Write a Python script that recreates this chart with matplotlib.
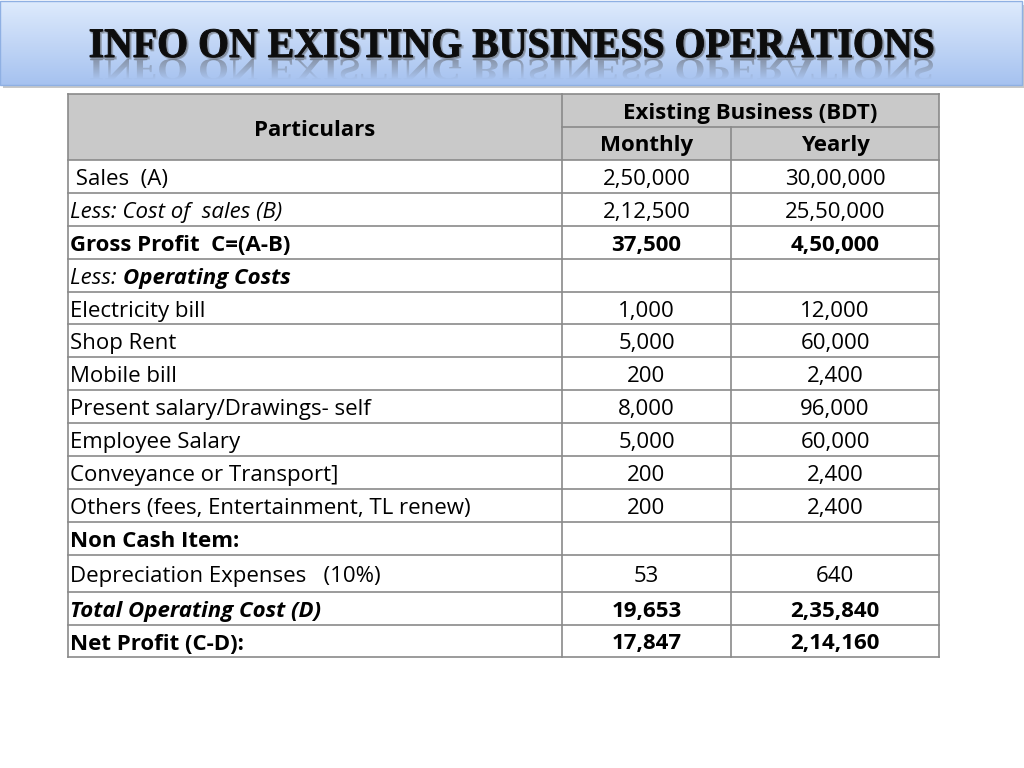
import numpy as np
import matplotlib
matplotlib.use("Agg")
from matplotlib import pyplot as plt
from matplotlib.textpath import TextPath
from matplotlib.patches import PathPatch, Rectangle
from matplotlib.font_manager import FontProperties
from matplotlib.transforms import Affine2D

title = "INFO ON EXISTING BUSINESS OPERATIONS"
group_header = "Existing Business (BDT)"
col_headers = ["Particulars", "Monthly", "Yearly"]

particulars = [" Sales  (A)", "Less: Cost of  sales (B)", "Gross Profit  C=(A-B)",
               "Less: |Operating Costs", "Electricity bill", "Shop Rent", "Mobile bill",
               "Present salary/Drawings- self", "Employee Salary",
               "Conveyance or Transport]", "Others (fees, Entertainment, TL renew)",
               "Non Cash Item:", "Depreciation Expenses   (10%)",
               "Total Operating Cost (D)", "Net Profit (C-D):"]
monthly = ["2,50,000", "2,12,500", "37,500", "", "1,000", "5,000", "200", "8,000",
           "5,000", "200", "200", "", "53", "19,653", "17,847"]
yearly = ["30,00,000", "25,50,000", "4,50,000", "", "12,000", "60,000", "2,400",
          "96,000", "60,000", "2,400", "2,400", "", "640", "2,35,840", "2,14,160"]
# text style per row: n normal, i italic, b bold, bi bold italic, m mixed
styles = ["n", "i", "b", "m", "n", "n", "n", "n", "n", "n", "n", "b", "n", "bi", "b"]

FONT = "Open Sans"
fig = plt.figure(figsize=(10.24, 7.68), dpi=100)
ax = fig.add_axes([0, 0, 1, 1])
ax.set_xlim(0, 1024)
ax.set_ylim(768, 0)
ax.axis("off")

# title banner with a vertical gradient
grad = np.linspace(0, 1, 100)[:, None]
c0 = np.array([0.87, 0.92, 0.99])
c1 = np.array([0.65, 0.76, 0.94])
img = c0 + (c1 - c0) * grad[..., None]
ax.add_patch(Rectangle((3, 5), 1021, 83, facecolor="#c8c8c8", edgecolor="none", zorder=0))
ax.imshow(img, extent=(0, 1022, 85, 1), aspect="auto", zorder=1)
ax.add_patch(Rectangle((0, 1), 1022, 84, facecolor="none", edgecolor="#8fb0e3", lw=1, zorder=2))

fp = FontProperties(family="Liberation Serif", weight="bold")
tp = TextPath((0, 0), title, prop=fp, size=50)
ext = tp.get_extents()
sx = (933 - 90) / ext.width
sy = 27.5 / TextPath((0, 0), "I", prop=fp, size=50).get_extents().height
# soft shadow, then the text
t_shadow = Affine2D().translate(-ext.x0, 0).scale(sx, -sy).translate(91.5, 58.5)
ax.add_patch(PathPatch(t_shadow.transform_path(tp), facecolor="#555555", edgecolor="#555555",
                       lw=1.5, alpha=0.35, zorder=3))
t_main = Affine2D().translate(-ext.x0, 0).scale(sx, -sy).translate(90, 57)
ax.add_patch(PathPatch(t_main.transform_path(tp), facecolor="#0d0d0d", edgecolor="#0d0d0d",
                       lw=0.7, zorder=4))
# fading reflection
t_refl = Affine2D().translate(-ext.x0, 0).scale(sx, sy * 0.75).translate(90, 59)
clip = PathPatch(t_refl.transform_path(tp), facecolor="none", edgecolor="none")
ax.add_patch(clip)
fade = np.zeros((60, 2, 4))
fade[..., :3] = 0.3
fade[..., 3] = np.linspace(0.45, 0.0, 60)[:, None]
im = ax.imshow(fade, extent=(85, 940, 80, 59), aspect="auto", zorder=3)
im.set_clip_path(clip)
ax.set_xlim(0, 1024)
ax.set_ylim(768, 0)

# table geometry
x0, x1, x2, x3 = 68, 562, 731, 939
row_edges = [160, 193, 226, 259, 292, 324, 357, 390, 423, 456, 489, 522, 555, 592, 625, 657]
line_c = "#8a8a8a"
ax.add_patch(Rectangle((x0, 94), x3 - x0, 160 - 94, facecolor="#c9c9c9", edgecolor="none", zorder=1))
ax.plot([x0, x3], [94, 94], color=line_c, lw=1.2)
ax.plot([x1, x3], [127, 127], color=line_c, lw=1.2)
for y in row_edges:
    ax.plot([x0, x3], [y, y], color=line_c, lw=1.2)
ax.plot([x0, x0], [94, row_edges[-1]], color=line_c, lw=1.2)
ax.plot([x1, x1], [94, row_edges[-1]], color=line_c, lw=1.2)
ax.plot([x2, x2], [127, row_edges[-1]], color=line_c, lw=1.2)
ax.plot([x3, x3], [94, row_edges[-1]], color=line_c, lw=1.2)

fs = 16
dy = 3
ax.text((x0 + x1) / 2, 127 + dy, col_headers[0], ha="center", va="center", fontsize=fs,
        fontweight="bold", family=FONT)
ax.text((x1 + x3) / 2, 110 + dy, group_header, ha="center", va="center", fontsize=fs,
        fontweight="bold", family=FONT)
ax.text((x1 + x2) / 2, 143 + dy, col_headers[1], ha="center", va="center", fontsize=fs,
        fontweight="bold", family=FONT)
ax.text((x2 + x3) / 2, 143 + dy, col_headers[2], ha="center", va="center", fontsize=fs,
        fontweight="bold", family=FONT)

renderer = fig.canvas.get_renderer()
for i, label in enumerate(particulars):
    yc = (row_edges[i] + row_edges[i + 1]) / 2 + dy
    st = styles[i]
    w = "bold" if "b" in st else "normal"
    s = "italic" if "i" in st else "normal"
    if st == "m":
        a, b = label.split("|")
        t = ax.text(70, yc, a, ha="left", va="center", fontsize=fs, style="italic", family=FONT)
        bb = t.get_window_extent(renderer)
        xe = ax.transData.inverted().transform((bb.x1, bb.y0))[0]
        ax.text(xe + 1, yc, b, ha="left", va="center", fontsize=fs, style="italic",
                fontweight="bold", family=FONT)
    else:
        ax.text(70, yc, label, ha="left", va="center", fontsize=fs, style=s, fontweight=w,
                family=FONT)
    nw = "bold" if "b" in st else "normal"
    ax.text((x1 + x2) / 2, yc, monthly[i], ha="center", va="center", fontsize=fs,
            fontweight=nw, family=FONT)
    ax.text((x2 + x3) / 2, yc, yearly[i], ha="center", va="center", fontsize=fs,
            fontweight=nw, family=FONT)

fig.savefig("out.png", dpi=100)
